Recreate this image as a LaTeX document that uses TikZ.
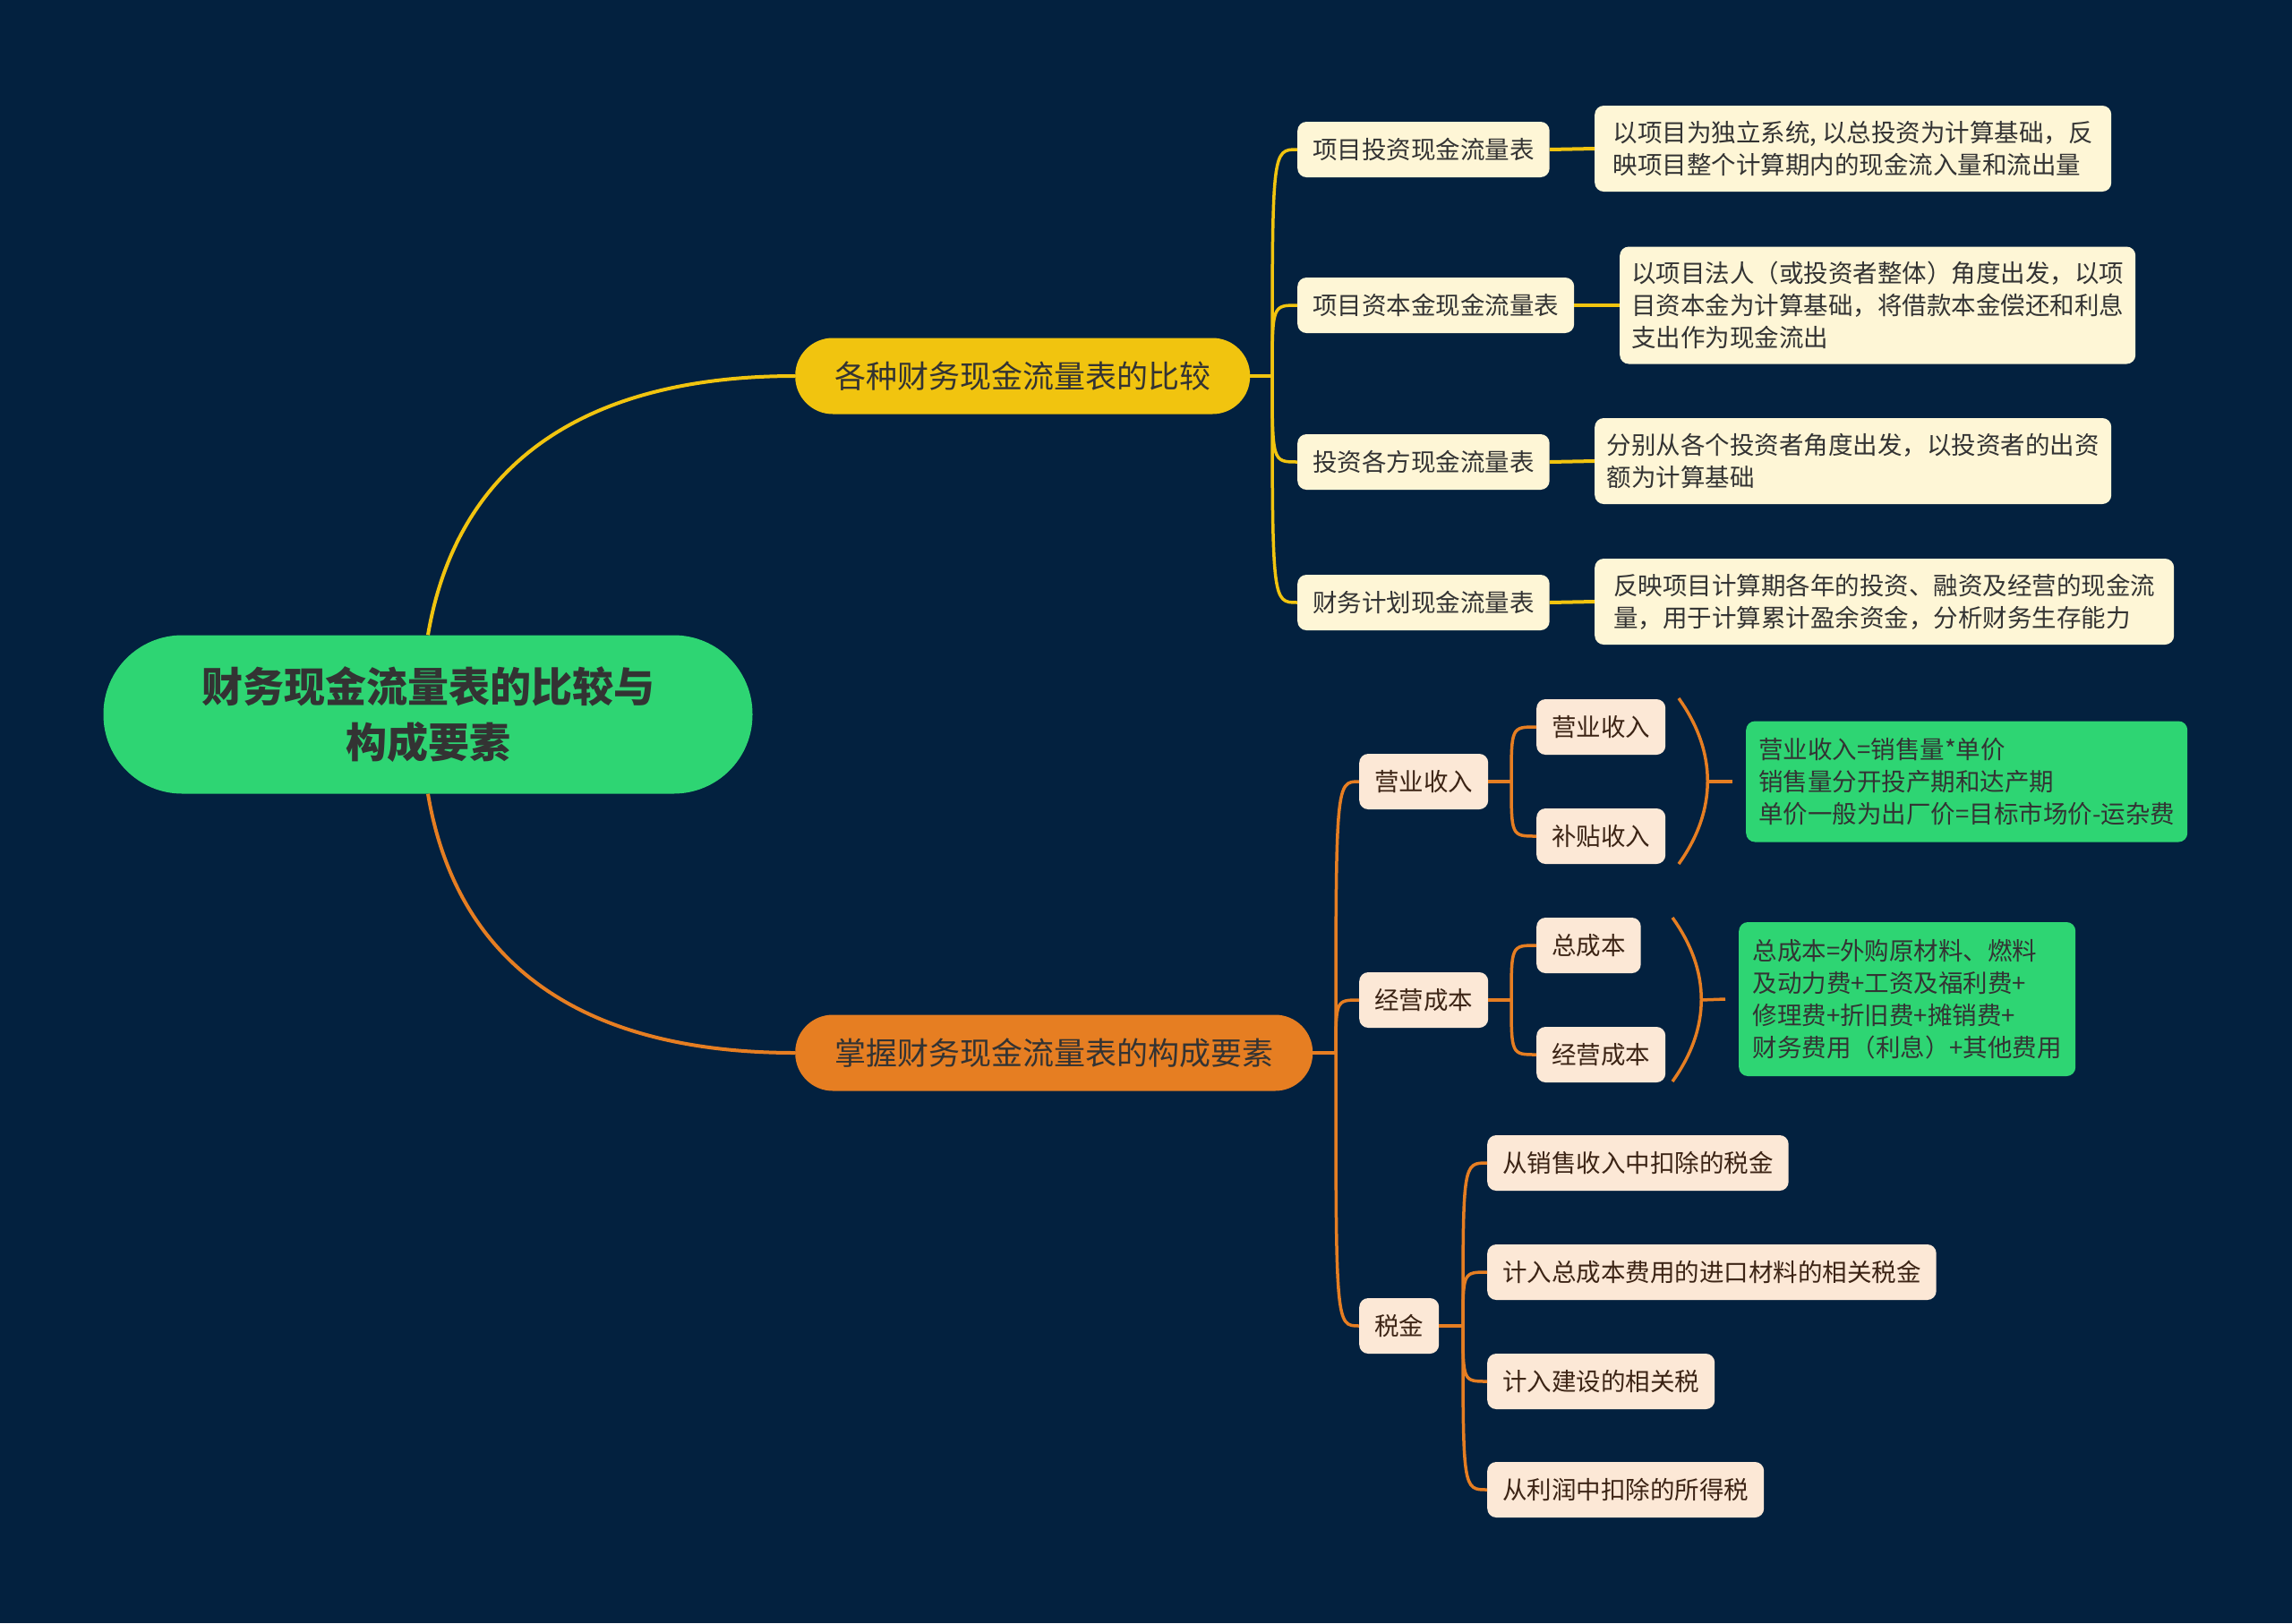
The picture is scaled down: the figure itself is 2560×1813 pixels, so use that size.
\documentclass[tikz,border=0pt]{standalone}
\usepackage{fontspec}
\setmainfont{Noto Sans CJK SC}
\usepackage{tikz}
\usetikzlibrary{positioning, calc}
\definecolor{mbg}{HTML}{03213F}
\definecolor{mgreen}{HTML}{2ED573}
\definecolor{myellow}{HTML}{F1C40F}
\definecolor{morange}{HTML}{E67E22}
\definecolor{mcreamY}{HTML}{FEF6D6}
\definecolor{mcreamO}{HTML}{FCE8D6}
\definecolor{mtext}{HTML}{333333}
\definecolor{mbrown}{HTML}{3C2415}

\begin{document}
\begin{tikzpicture}[x=1pt, y=-1pt,
  rootbox/.style={fill=mgreen, rounded corners=88pt, minimum width=725pt, minimum height=177pt,
    align=center, text=mtext, font=\fontsize{46}{62}\selectfont\bfseries},
  mainbox/.style={rounded corners=42pt, minimum height=85pt, inner xsep=44pt, anchor=west,
    text=mtext, font=\fontsize{35}{42}\selectfont},
  leafbox/.style={rounded corners=10pt, minimum height=62pt, inner xsep=17pt, anchor=west,
    font=\fontsize{27.5}{36}\selectfont},
  yleaf/.style={leafbox, fill=mcreamY, text=mtext},
  oleaf/.style={leafbox, fill=mcreamO, text=mbrown},
  ydesc/.style={yleaf, align=left, inner xsep=12pt},
  note/.style={leafbox, fill=mgreen, text=mtext, align=left, inner xsep=10pt},
  ylink/.style={draw=myellow, line width=3.5pt},
  olink/.style={draw=morange, line width=3.5pt}
]
\fill[mbg] (0,0) rectangle (2560,1813);

% centre and the two main branches
\node[rootbox] (root) at (478,798) {财务现金流量表的比较与\\构成要素};
\node[mainbox, fill=myellow] (cmp) at (888,420) {各种财务现金流量表的比较};
\node[mainbox, fill=morange] (elem) at (888,1176) {掌握财务现金流量表的构成要素};

\draw[ylink, line width=4pt] (root.north) .. controls (510,520) and (650,420) .. (cmp.west);
\draw[olink, line width=4pt] (root.south) .. controls (510,1077) and (650,1176) .. (elem.west);

% comparison of the tables
\node[yleaf] (cmpA) at (1449,167) {项目投资现金流量表};
\node[yleaf] (cmpB) at (1449,341) {项目资本金现金流量表};
\node[yleaf] (cmpC) at (1449,516) {投资各方现金流量表};
\node[yleaf] (cmpD) at (1449,673) {财务计划现金流量表};

\node[ydesc, minimum width=577pt, minimum height=96pt] (descA) at (1781,166)
  {以项目为独立系统, 以总投资为计算基础，反\\映项目整个计算期内的现金流入量和流出量};
\node[ydesc, minimum width=576pt, minimum height=131pt] (descB) at (1809,341)
  {以项目法人（或投资者整体）角度出发，以项\\目资本金为计算基础，将借款本金偿还和利息\\支出作为现金流出};
\node[ydesc, minimum width=577pt, minimum height=96pt] (descC) at (1781,515)
  {分别从各个投资者角度出发，以投资者的出资\\额为计算基础};
\node[ydesc, minimum width=647pt, minimum height=96pt] (descD) at (1781,672)
  {反映项目计算期各年的投资、融资及经营的现金流\\量，用于计算累计盈余资金，分析财务生存能力};

\coordinate (cmpT) at (1421,420);
\draw[ylink] (cmp.east) -- (cmpT);
\foreach \c in {cmpA,cmpB,cmpC,cmpD}
  \draw[ylink] (cmpT) .. controls (cmpT |- \c.west) .. (\c.west);
\foreach \c/\d in {cmpA/descA,cmpB/descB,cmpC/descC,cmpD/descD}
  \draw[ylink, line width=4pt] (\c.east) -- (\d.west);

% elements
\node[oleaf] (rev) at (1518,873) {营业收入};
\node[oleaf] (cost) at (1518,1117) {经营成本};
\node[oleaf] (tax) at (1518,1481) {税金};

\coordinate (elemT) at (1492,1176);
\draw[olink] (elem.east) -- (elemT);
\foreach \c in {rev,cost,tax}
  \draw[olink] (elemT) .. controls (elemT |- \c.west) .. (\c.west);

\node[oleaf] (revSale) at (1716,812) {营业收入};
\node[oleaf] (revSub) at (1716,934) {补贴收入};
\node[oleaf] (costTotal) at (1716,1056) {总成本};
\node[oleaf] (costOper) at (1716,1178) {经营成本};

\coordinate (revT) at (1688,873);
\coordinate (costT) at (1688,1117);
\draw[olink] (rev.east) -- (revT);
\draw[olink] (cost.east) -- (costT);
\foreach \c in {revSale,revSub}
  \draw[olink] (revT) .. controls (revT |- \c.west) .. (\c.west);
\foreach \c in {costTotal,costOper}
  \draw[olink] (costT) .. controls (costT |- \c.west) .. (\c.west);

\node[note, minimum width=493pt, minimum height=135pt] (revNote) at (1950,873)
  {营业收入=销售量*单价\\销售量分开投产期和达产期\\单价一般为出厂价=目标市场价-运杂费};
\node[note, minimum width=376pt, minimum height=172pt] (costNote) at (1942,1116)
  {总成本=外购原材料、燃料\\及动力费+工资及福利费+\\修理费+折旧费+摊销费+\\财务费用（利息）+其他费用};

\coordinate (revArc) at (1907,873);
\coordinate (costArc) at (1900,1117);
\draw[olink] (1875,780) .. controls (1918,840) and (1918,905) .. (1875,965);
\draw[olink] (1868,1025) .. controls (1911,1085) and (1911,1148) .. (1868,1208);
\draw[olink] (revArc) -- ([xshift=-15pt]revNote.west);
\draw[olink] (costArc) -- ([xshift=-15pt]costNote.west);

\node[oleaf] (taxA) at (1661,1299) {从销售收入中扣除的税金};
\node[oleaf] (taxB) at (1661,1421) {计入总成本费用的进口材料的相关税金};
\node[oleaf] (taxC) at (1661,1543) {计入建设的相关税};
\node[oleaf] (taxD) at (1661,1664) {从利润中扣除的所得税};

\coordinate (taxT) at (1634,1481);
\draw[olink] (tax.east) -- (taxT);
\foreach \c in {taxA,taxB,taxC,taxD}
  \draw[olink] (taxT) .. controls (taxT |- \c.west) .. (\c.west);
\end{tikzpicture}
\end{document}
